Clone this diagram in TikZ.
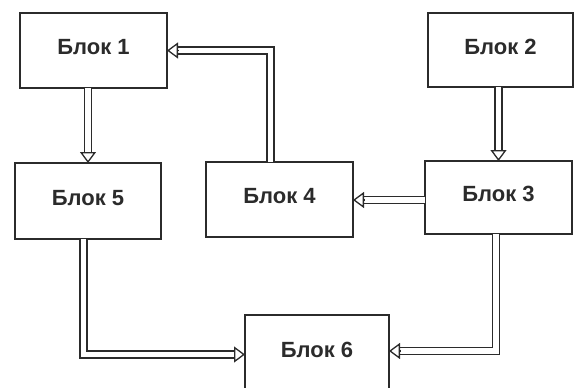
\documentclass[tikz,border=0pt]{standalone}
\usepackage{fontspec}
\setmainfont{Liberation Sans}
\usetikzlibrary{arrows.meta}

\definecolor{ink}{HTML}{2B2B2B}

\tikzset{
  blk/.style={draw=ink, line width=1.6pt, inner sep=0pt, outer sep=0pt,
    font=\fontsize{22}{26}\selectfont\bfseries, text=ink,
    text height=15.5pt, text depth=7pt},
  shaft/.style={draw=ink, line width=1.3pt, double=white, double distance=5.5pt,
    shorten >=10pt},
  head/.style={draw=ink, line width=1.3pt,
    -{Triangle[open, width=16pt, length=11pt, line width=1.3pt]}}
}

\begin{document}
\begin{tikzpicture}[x=1pt, y=-1pt]
  \useasboundingbox (0,0) rectangle (574,388);
  \clip (0,0) rectangle (574,388);

  % blocks
  \node[blk, minimum width=147pt, minimum height=75pt] (b1) at (93.5,50.5) {Блок 1};
  \node[blk, minimum width=145pt, minimum height=74pt] (b2) at (500.5,50) {Блок 2};
  \node[blk, minimum width=146pt, minimum height=76pt] (b5) at (88,201) {Блок 5};
  \node[blk, minimum width=147pt, minimum height=75pt] (b4) at (279.5,199.5) {Блок 4};
  \node[blk, minimum width=147pt, minimum height=73pt] (b3) at (498.5,197.5) {Блок 3};
  \node[blk, minimum width=144pt, minimum height=76pt] (b6) at (317,353) {Блок 6};

  % arrow end points
  \coordinate (t5) at (b5.north);
  \coordinate (t1) at (b1.east);
  \coordinate (t3) at (b3.north);
  \coordinate (t4) at ([yshift=-0.5pt]b4.east);
  \coordinate (t6l) at ([yshift=-1.5pt]b6.west);
  \coordinate (t6r) at ([yshift=2pt]b6.east);

  % Блок 1 -> Блок 5
  \draw[shaft] (t5 |- b1.south) -- (t5);
  \draw[head] ([yshift=11pt]t5) -- (t5);

  % Блок 4 -> Блок 1
  \draw[shaft] ([xshift=-9pt]b4.north) |- (t1);
  \draw[head] ([xshift=11pt]t1) -- (t1);

  % Блок 2 -> Блок 3
  \draw[shaft] (t3 |- b2.south) -- (t3);
  \draw[head] ([yshift=11pt]t3) -- (t3);

  % Блок 3 -> Блок 4
  \draw[shaft] (b3.west |- t4) -- (t4);
  \draw[head] ([xshift=11pt]t4) -- (t4);

  % Блок 5 -> Блок 6
  \draw[shaft] ([xshift=-4.5pt]b5.south) |- (t6l);
  \draw[head] ([xshift=-11pt]t6l) -- (t6l);

  % Блок 3 -> Блок 6
  \draw[shaft] ([xshift=-2.5pt]b3.south) |- (t6r);
  \draw[head] ([xshift=11pt]t6r) -- (t6r);
\end{tikzpicture}
\end{document}
